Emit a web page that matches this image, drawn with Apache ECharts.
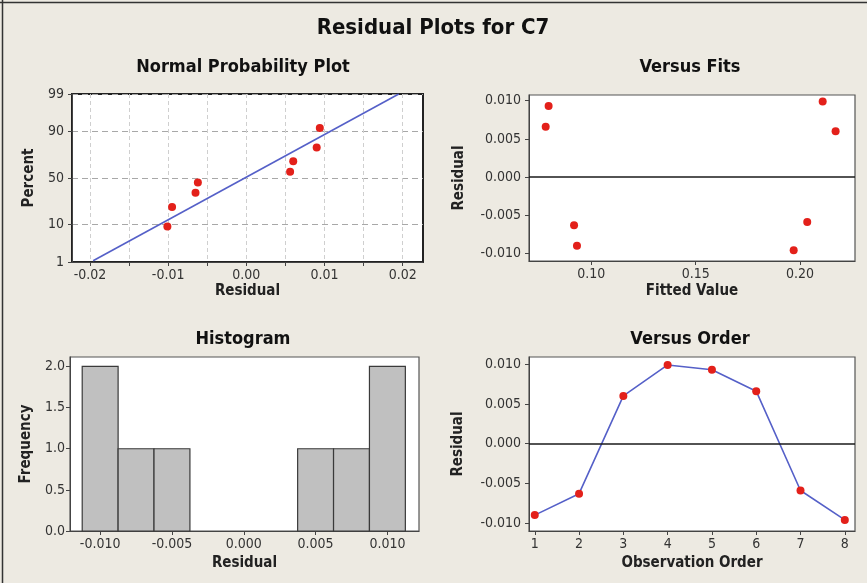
<!DOCTYPE html>
<html>
<head>
<meta charset="utf-8">
<title>Residual Plots for C7</title>
<script src="https://cdn.jsdelivr.net/npm/echarts@6/dist/echarts.min.js"></script>
<style>
html, body { margin: 0; padding: 0; background: #edeae2; }
#chart { width: 867px; height: 583px; }
</style>
</head>
<body>
<div id="chart"></div>
<script>
// data
var observationOrder = [1, 2, 3, 4, 5, 6, 7, 8];
var residuals = [-0.0090, -0.0063, 0.0060, 0.0099, 0.0093, 0.0066, -0.0059, -0.0096];
var fittedValues = [0.0931, 0.0917, 0.2171, 0.2109, 0.0795, 0.0781, 0.2035, 0.1970];

// normal probability plot (sorted residuals + plotted percent)
var probResidual = [-0.0101, -0.0095, -0.0065, -0.0062, 0.0056, 0.0060, 0.0090, 0.0094];
var probPercent = [9.0, 21.0, 34.0, 45.0, 57.0, 68.0, 80.0, 91.7];
var fitLineX = [-0.0196, 0.0195];
var fitLinePercent = [1.1, 99];
var percentTicks = [1, 10, 50, 90, 99];
var probXTicks = [-0.02, -0.015, -0.01, -0.005, 0, 0.005, 0.01, 0.015, 0.02];
var probXLabels = [-0.02, -0.01, 0, 0.01, 0.02];

// histogram
var binEdges = [-0.01125, -0.00875, -0.00625, -0.00375, -0.00125, 0.00125, 0.00375, 0.00625, 0.00875, 0.01125];
var binCounts = [2, 1, 1, 0, 0, 0, 1, 1, 2];
var histXTicks = [-0.01, -0.005, 0, 0.005, 0.01];
var freqTicks = [0, 0.5, 1, 1.5, 2];

var residTicks = [-0.01, -0.005, 0, 0.005, 0.01];
var fitTicks = [0.10, 0.15, 0.20];

var fam = '"DejaVu Sans Condensed", "DejaVu Sans", sans-serif';
var red = '#e3201a';
var blue = '#5560c8';

// 正态分位数 (Abramowitz-Stegun 26.2.23)
function probit(p) {
  var q = p < 0.5 ? p : 1 - p;
  var t = Math.sqrt(-2 * Math.log(q));
  var z = t - (2.515517 + 0.802853 * t + 0.010328 * t * t) /
    (1 + 1.432788 * t + 0.189269 * t * t + 0.001308 * t * t * t);
  return p < 0.5 ? -z : z;
}
var zTicks = percentTicks.map(function (p) { return probit(p / 100); });

function axis(o) {
  return {
    type: 'value',
    gridIndex: o.grid,
    min: o.min,
    max: o.max,
    name: o.name,
    nameLocation: 'middle',
    nameGap: o.gap,
    nameMoveOverlap: false,
    nameTextStyle: { color: '#222', fontSize: 15, fontWeight: 'bold', fontFamily: fam },
    axisLine: { show: true, onZero: false, lineStyle: { color: '#444', width: 1 } },
    axisTick: { show: true, inside: false, length: 4, customValues: o.ticks, lineStyle: { color: '#444' } },
    axisLabel: {
      show: true,
      customValues: o.labels || o.ticks,
      margin: o.margin || 7,
      color: '#333',
      fontSize: 14,
      fontFamily: fam,
      formatter: o.fmt
    },
    splitLine: o.split || { show: false }
  };
}

function fixed(d) {
  return function (v) { return Number(v).toFixed(d); };
}

var chart = echarts.init(document.getElementById('chart'), null, { renderer: 'canvas' });

var titleFont = 'bold 18px ' + fam;
var zeroMark = {
  symbol: 'none',
  silent: true,
  label: { show: false },
  lineStyle: { color: '#1a1a1a', width: 1.6, type: 'solid' },
  data: [{ yAxis: 0 }]
};

chart.setOption({
  backgroundColor: '#edeae2',
  animation: false,
  graphic: [
    { type: 'line', shape: { x1: 0, y1: 2.5, x2: 867, y2: 2.5 }, style: { stroke: '#333', lineWidth: 1.5 } },
    { type: 'line', shape: { x1: 2.5, y1: 0, x2: 2.5, y2: 583 }, style: { stroke: '#333', lineWidth: 1.5 } },
    { type: 'text', x: 433, y: 28, style: { text: 'Residual Plots for C7', font: 'bold 22px ' + fam, fill: '#111', align: 'center', verticalAlign: 'middle', textAlign: 'center', textVerticalAlign: 'middle' } },
    { type: 'text', x: 243, y: 67, style: { text: 'Normal Probability Plot', font: titleFont, fill: '#111', align: 'center', verticalAlign: 'middle', textAlign: 'center', textVerticalAlign: 'middle' } },
    { type: 'text', x: 690, y: 67, style: { text: 'Versus Fits', font: titleFont, fill: '#111', align: 'center', verticalAlign: 'middle', textAlign: 'center', textVerticalAlign: 'middle' } },
    { type: 'text', x: 243, y: 339, style: { text: 'Histogram', font: titleFont, fill: '#111', align: 'center', verticalAlign: 'middle', textAlign: 'center', textVerticalAlign: 'middle' } },
    { type: 'text', x: 690, y: 339, style: { text: 'Versus Order', font: titleFont, fill: '#111', align: 'center', verticalAlign: 'middle', textAlign: 'center', textVerticalAlign: 'middle' } }
  ],
  grid: [
    { left: 72, top: 94, width: 351, height: 168, show: true, backgroundColor: '#fff', borderColor: '#222', borderWidth: 2, containLabel: false, outerBoundsMode: 'none' },
    { left: 529, top: 95, width: 326, height: 166, show: true, backgroundColor: '#fff', borderColor: '#555', borderWidth: 1.2, containLabel: false, outerBoundsMode: 'none' },
    { left: 70, top: 357, width: 349, height: 174, show: true, backgroundColor: '#fff', borderColor: '#555', borderWidth: 1.2, containLabel: false, outerBoundsMode: 'none' },
    { left: 529, top: 357, width: 326, height: 174, show: true, backgroundColor: '#fff', borderColor: '#555', borderWidth: 1.2, containLabel: false, outerBoundsMode: 'none' }
  ],
  xAxis: [
    axis({ grid: 0, min: -0.0223, max: 0.0226, ticks: probXTicks, labels: probXLabels, fmt: fixed(2), name: 'Residual', gap: 22, margin: 6,
      split: { show: true, lineStyle: { color: '#cfcfcf', width: 1, type: [4, 3] } } }),
    axis({ grid: 1, min: 0.0701, max: 0.2264, ticks: fitTicks, fmt: fixed(2), name: 'Fitted Value', gap: 23, margin: 6 }),
    axis({ grid: 2, min: -0.0121, max: 0.0122, ticks: histXTicks, fmt: fixed(3), name: 'Residual', gap: 25, margin: 6 }),
    axis({ grid: 3, min: 0.87, max: 8.23, ticks: observationOrder, fmt: fixed(0), name: 'Observation Order', gap: 25, margin: 6 })
  ],
  yAxis: [
    axis({ grid: 0, min: probit(percentTicks[0] / 100), max: probit(percentTicks[4] / 100), ticks: zTicks, name: 'Percent', gap: 35, margin: 8,
      fmt: function (v) {
        for (var i = 0; i < zTicks.length; i++) {
          if (Math.abs(zTicks[i] - v) < 1e-6) return String(percentTicks[i]);
        }
        return '';
      },
      split: { show: true, lineStyle: { color: '#a8a8a8', width: 1, type: [6, 4] } } }),
    axis({ grid: 1, min: -0.0110, max: 0.01075, ticks: residTicks, fmt: fixed(3), name: 'Residual', gap: 62, margin: 8 }),
    axis({ grid: 2, min: 0, max: 2.115, ticks: freqTicks, fmt: fixed(1), name: 'Frequency', gap: 36, margin: 5 }),
    axis({ grid: 3, min: -0.0110, max: 0.0109, ticks: residTicks, fmt: fixed(3), name: 'Residual', gap: 63, margin: 8 })
  ],
  series: [
    {
      type: 'line',
      xAxisIndex: 0,
      yAxisIndex: 0,
      symbol: 'none',
      lineStyle: { color: blue, width: 1.6 },
      data: fitLineX.map(function (x, i) { return [x, probit(fitLinePercent[i] / 100)]; })
    },
    {
      type: 'scatter',
      xAxisIndex: 0,
      yAxisIndex: 0,
      symbolSize: 8,
      itemStyle: { color: red, opacity: 1 },
      data: probResidual.map(function (r, i) { return [r, probit(probPercent[i] / 100)]; })
    },
    {
      type: 'scatter',
      xAxisIndex: 1,
      yAxisIndex: 1,
      symbolSize: 8,
      itemStyle: { color: red, opacity: 1 },
      markLine: zeroMark,
      data: fittedValues.map(function (f, i) { return [f, residuals[i]]; })
    },
    {
      type: 'custom',
      xAxisIndex: 2,
      yAxisIndex: 2,
      encode: { x: [0, 1], y: 2 },
      renderItem: function (params, api) {
        var h = api.value(2);
        if (!h) return null;
        var p0 = api.coord([api.value(0), h]);
        var p1 = api.coord([api.value(1), 0]);
        return {
          type: 'rect',
          shape: { x: p0[0], y: p0[1], width: p1[0] - p0[0], height: p1[1] - p0[1] },
          style: { fill: '#c0c0c0', stroke: '#3a3a3a', lineWidth: 1.2 }
        };
      },
      data: binCounts.map(function (c, i) { return [binEdges[i], binEdges[i + 1], c]; })
    },
    {
      type: 'line',
      xAxisIndex: 3,
      yAxisIndex: 3,
      symbol: 'circle',
      symbolSize: 8,
      itemStyle: { color: red, opacity: 1 },
      lineStyle: { color: blue, width: 1.6 },
      markLine: zeroMark,
      data: observationOrder.map(function (o, i) { return [o, residuals[i]]; })
    }
  ]
});
</script>
</body>
</html>
